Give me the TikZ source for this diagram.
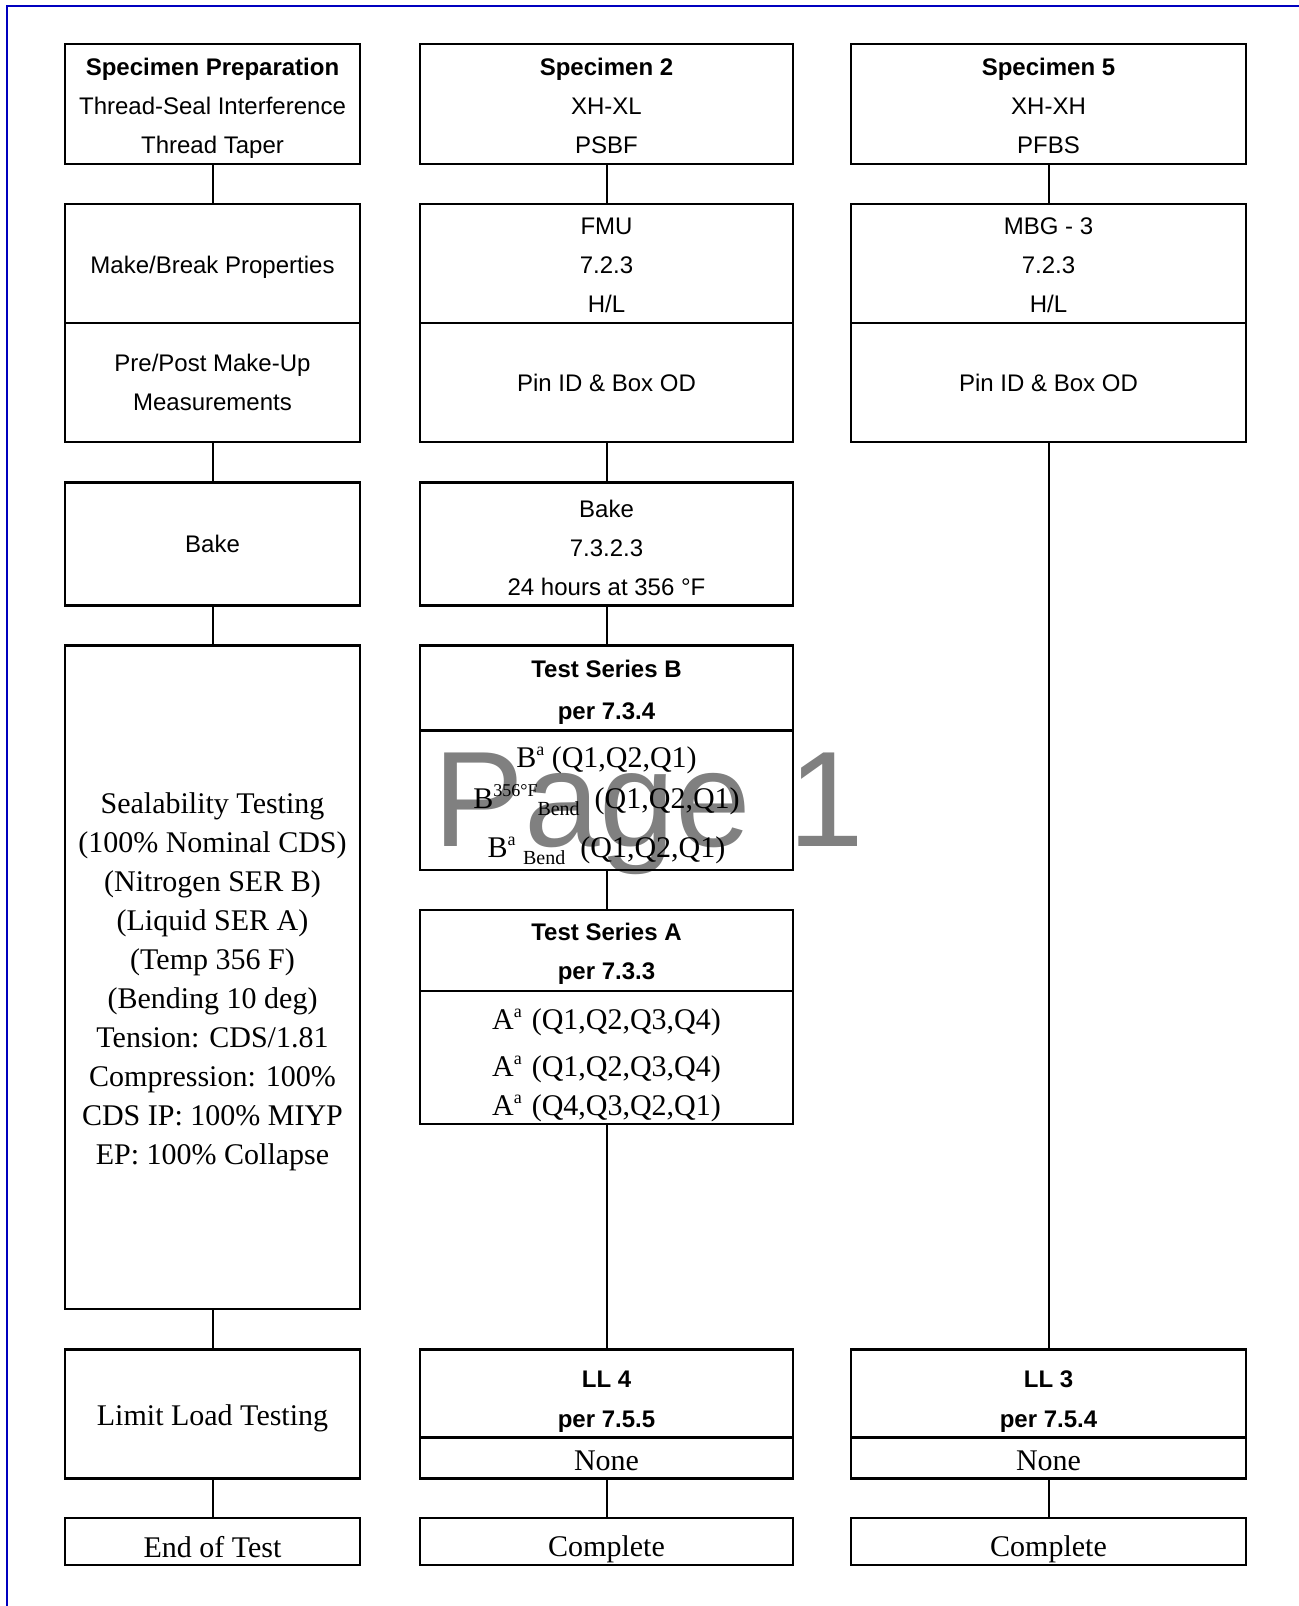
\documentclass[tikz,border=0pt]{standalone}
\usepackage{fontspec}
\setmainfont{Liberation Serif}
\setsansfont{Liberation Sans}
\usetikzlibrary{calc, positioning}

\newcommand{\supr}[1]{\raisebox{6pt}{\fontsize{9}{9}\selectfont #1}}
\newcommand{\subr}[1]{\raisebox{-3.5pt}{\fontsize{10}{10}\selectfont #1}}
\newcommand{\lift}[1]{\rule{0pt}{#1}}

\begin{document}
\begin{tikzpicture}[x=0.5pt, y=-0.5pt,
  box/.style={draw, line width=1.3pt, inner sep=0pt, align=center},
  sanstext/.style={font=\sffamily\fontsize{12}{19.5}\selectfont},
  seriftext/.style={font=\fontsize{15}{19.5}\selectfont},
  link/.style={line width=1pt},
  colA/.style={minimum width=147.5pt},
  colB/.style={minimum width=186.5pt},
  colC/.style={minimum width=197.5pt}]
\def\xA{212.5}
\def\xB{606.5}
\def\xC{1048.5}
\colorlet{frameblue}{blue!75!black}

\useasboundingbox (0,0) rectangle (1299,1606);
\draw[line width=1pt, frameblue] (7,1612) -- (7,6) -- (1305,6);

\node[anchor=base west, inner sep=0pt, text=black!50,
    font=\sffamily\fontsize{68}{68}\selectfont] (wmark) at (433,846) {Page 1};

\node[box, sanstext, colA, minimum height=60pt] (specA) at (\xA,104)
    {\lift{12.8pt}\textbf{Specimen Preparation}\\Thread-Seal Interference\\Thread Taper};
\node[box, sanstext, colA, minimum height=59.5pt] (makeA) at (\xA,263.5)
    {\lift{12.8pt}Make/Break Properties};
\node[box, sanstext, colA, minimum height=59.5pt] (measA) at (\xA,382.5)
    {Pre/Post Make-Up\\Measurements};
\node[box, sanstext, colA, minimum height=61.5pt] (bakeA) at (\xA,544) {Bake};
\node[box, seriftext, colA, minimum height=331.75pt] (sealA) at (\xA,977.25)
    {\lift{15.3pt}Sealability Testing\\(100\% Nominal CDS)\\(Nitrogen SER B)\\(Liquid SER A)\\
     (Temp 356 F)\\(Bending 10 deg)\\Tension: CDS/1.81\\Compression: 100\%\\
     CDS IP: 100\% MIYP\\EP: 100\% Collapse};
\node[box, seriftext, colA, minimum height=64.5pt] (limitA) at (\xA,1414)
    {\lift{14.3pt}Limit Load Testing};
\node[box, seriftext, colA, minimum height=23.5pt] (endA) at (\xA,1541.5)
    {\lift{16.3pt}End of Test};

\node[box, sanstext, colB, minimum height=60pt] (specB) at (\xB,104)
    {\lift{10.8pt}\textbf{Specimen 2}\\XH-XL\\PSBF};
\node[box, sanstext, colB, minimum height=59.5pt] (fmuB) at (\xB,263.5)
    {\lift{10.6pt}FMU\\7.2.3\\H/L};
\node[box, sanstext, colB, minimum height=59.5pt] (pinB) at (\xB,382.5)
    {Pin ID \& Box OD};
\node[box, sanstext, colB, minimum height=61.5pt] (bakeB) at (\xB,544)
    {\lift{12.8pt}Bake\\7.3.2.3\\24 hours at 356 °F};
\node[box, sanstext, colB, minimum height=42.5pt] (tsbB) at (\xB,688)
    {\lift{12.8pt}\textbf{Test Series B}\\[1.5pt]\textbf{per 7.3.4}};
\node[box, seriftext, colB, minimum height=69.75pt] (bodybB) at (\xB,800.25)
    {\lift{15.5pt}B\supr{a}\ (Q1,Q2,Q1)\\[1pt]
     B\supr{356°F}\subr{Bend}\ \ (Q1,Q2,Q1)\\[5pt]
     B\supr{a}\ \subr{Bend}\ \ (Q1,Q2,Q1)};
\node[box, sanstext, colB, minimum height=40.5pt] (tsaB) at (\xB,950.5)
    {\lift{11.8pt}\textbf{Test Series A}\\\textbf{per 7.3.3}};
\node[box, seriftext, colB, minimum height=66.5pt] (bodyaB) at (\xB,1057.5)
    {\lift{18pt}A\supr{a}\hspace{5pt}(Q1,Q2,Q3,Q4)\\[4.25pt]
     A\supr{a}\hspace{5pt}(Q1,Q2,Q3,Q4)\\
     A\supr{a}\hspace{5pt}(Q4,Q3,Q2,Q1)};
\node[box, sanstext, colB, minimum height=44pt] (llB) at (\xB,1393.5)
    {\lift{16.2pt}\textbf{LL 4}\\[0.5pt]\textbf{per 7.5.5}};
\node[box, seriftext, colB, minimum height=20.5pt] (noneB) at (\xB,1458)
    {\lift{12.9pt}None};
\node[box, seriftext, colB, minimum height=23.5pt] (doneB) at (\xB,1541.5)
    {\lift{18.3pt}Complete};

\node[box, sanstext, colC, minimum height=60pt] (specC) at (\xC,104)
    {\lift{10.8pt}\textbf{Specimen 5}\\XH-XH\\PFBS};
\node[box, sanstext, colC, minimum height=59.5pt] (mbgC) at (\xC,263.5)
    {\lift{10.6pt}MBG - 3\\7.2.3\\H/L};
\node[box, sanstext, colC, minimum height=59.5pt] (pinC) at (\xC,382.5)
    {Pin ID \& Box OD};
\node[box, sanstext, colC, minimum height=44pt] (llC) at (\xC,1393.5)
    {\lift{16.2pt}\textbf{LL 3}\\[0.5pt]\textbf{per 7.5.4}};
\node[box, seriftext, colC, minimum height=20.5pt] (noneC) at (\xC,1458)
    {\lift{12.9pt}None};
\node[box, seriftext, colC, minimum height=23.5pt] (doneC) at (\xC,1541.5)
    {\lift{18.3pt}Complete};

\draw[link] (specA) -- (makeA);
\draw[link] (measA) -- (bakeA);
\draw[link] (bakeA) -- (sealA);
\draw[link] (sealA) -- (limitA);
\draw[link] (limitA) -- (endA);

\draw[link] (specB) -- (fmuB);
\draw[link] (pinB) -- (bakeB);
\draw[link] (bakeB) -- (tsbB);
\draw[link] (bodybB) -- (tsaB);
\draw[link] (bodyaB) -- (llB);
\draw[link] (noneB) -- (doneB);

\draw[link] (specC) -- (mbgC);
\draw[link] (pinC) -- (llC);
\draw[link] (noneC) -- (doneC);
\end{tikzpicture}
\end{document}
